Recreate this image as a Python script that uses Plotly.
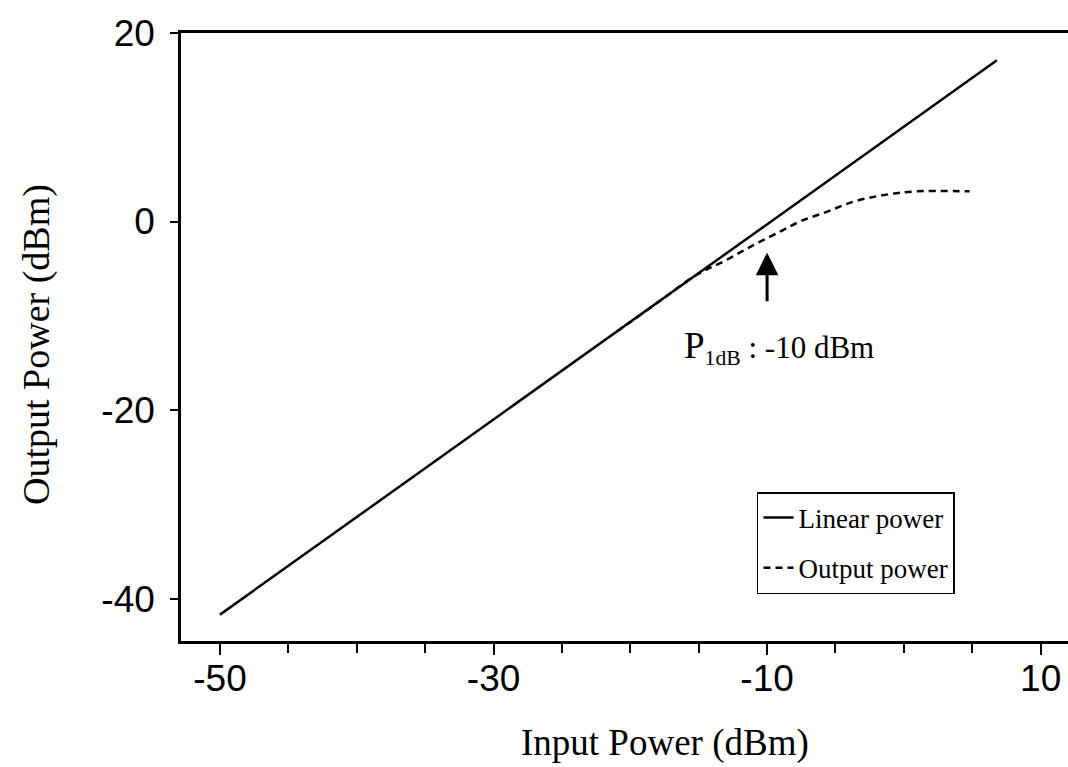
import plotly.graph_objects as go

# Small-signal (linear) response: straight line through the two end points
linear_in = [-50.0, 6.8]
linear_out = [-41.7, 17.1]

# Measured amplifier output, compressing toward saturation
meas_in = [-21.0, -18.0, -15.2, -13.0, -11.0, -9.1, -7.6, -5.7, -3.7, -1.5, 0.9, 4.8]
meas_out = [-11.7, -8.6, -5.7, -4.1, -2.5, -1.1, 0.0, 1.0, 2.1, 2.8, 3.2, 3.2]

# 1 dB compression point
p1db_in = -10
p1db_out = -3.3

x_range = [-52.85, 12.0]
y_range = [-44.5, 20]
x_ticks = [-50, -30, -10, 10]
x_ticktext = ["-50", "-30", "-10", "10"]
y_ticks = [-40, -20, 0, 20]
y_ticktext = ["-40", "-20", "0", "20"]

sans = "Liberation Sans, Arial, sans-serif"
serif = "Liberation Serif, Times New Roman, serif"

fig = go.Figure()
fig.add_trace(go.Scatter(
    x=linear_in, y=linear_out, mode="lines", name="Linear power",
    legendgroup="lin",
    line=dict(color="black", width=2.5),
))
fig.add_trace(go.Scatter(
    x=meas_in, y=meas_out, mode="lines", name="Output power",
    legendgroup="meas",
    line=dict(color="black", width=2.5, dash="7px,5px", shape="spline"),
))

fig.add_annotation(
    x=p1db_in, y=p1db_out, xref="x", yref="y", text="",
    showarrow=True, ax=0, ay=50, arrowhead=2, arrowsize=1.5,
    arrowwidth=3, arrowcolor="black",
)
fig.add_annotation(
    x=-9.1, y=-13.4, xref="x", yref="y", showarrow=False,
    text='<span style="font-size:37px">P</span><sub>1dB</sub> : -10 dBm',
    font=dict(family=serif, size=31, color="black"),
)

# Axis titles
fig.add_annotation(
    x=0.5457, y=-0.168, xref="paper", yref="paper", showarrow=False,
    text="Input Power (dBm)", xanchor="center", yanchor="middle",
    font=dict(family=serif, size=37, color="black"),
)
fig.add_annotation(
    x=-0.1623, y=0.487, xref="paper", yref="paper", showarrow=False,
    text="Output Power (dBm)", textangle=-90, xanchor="center", yanchor="middle",
    font=dict(family=serif, size=38, color="black"),
)

fig.update_layout(
    width=1068, height=767,
    margin=dict(l=181, r=0, t=33, b=126),
    paper_bgcolor="white", plot_bgcolor="white",
    showlegend=True,
    legend=dict(
        x=0.8726, y=0.245, xanchor="right", yanchor="top",
        bordercolor="black", borderwidth=1.5, bgcolor="white",
        tracegroupgap=12,
        font=dict(family=serif, size=27, color="black"),
    ),
    xaxis=dict(
        range=x_range, tickvals=x_ticks, ticktext=x_ticktext,
        ticks="outside", ticklen=11, tickwidth=2, tickcolor="black",
        ticklabelstandoff=-8,
        minor=dict(dtick=5, tick0=-50, ticks="outside", ticklen=9,
                   tickwidth=2, tickcolor="black"),
        showline=True, linecolor="black", linewidth=2.5, mirror=True,
        showgrid=False, zeroline=False,
        tickfont=dict(family=sans, size=37, color="black"),
    ),
    yaxis=dict(
        range=y_range, tickvals=y_ticks, ticktext=y_ticktext,
        ticks="outside", ticklen=8, tickwidth=2, tickcolor="black",
        ticklabelstandoff=8,
        showline=True, linecolor="black", linewidth=2.5, mirror=False,
        showgrid=False, zeroline=False,
        tickfont=dict(family=sans, size=37, color="black"),
    ),
)

fig.write_html("out.html")
